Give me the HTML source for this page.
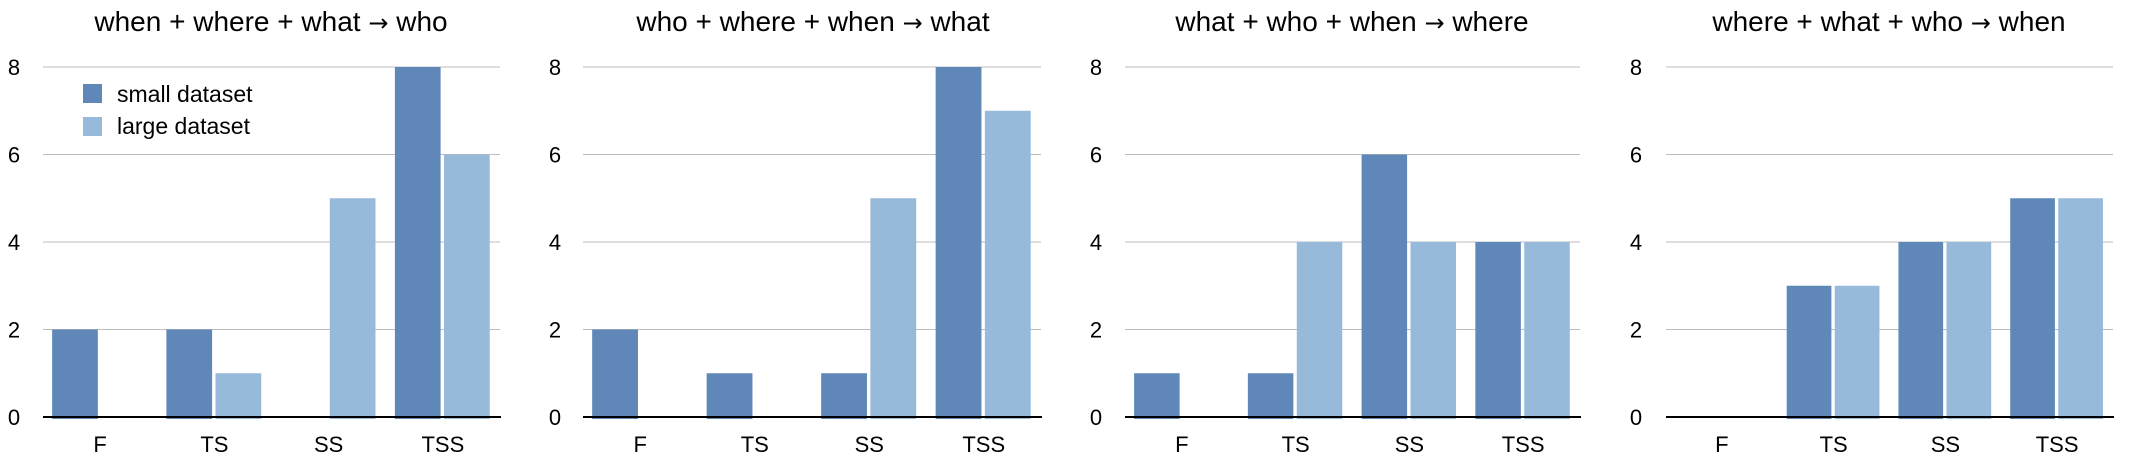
<!DOCTYPE html>
<html><head><meta charset="utf-8"><style>
html,body{margin:0;padding:0;background:#fff;}
svg{display:block;font-family:"Liberation Sans",Arial,sans-serif;}
</style></head><body>
<svg id="chart" width="2146" height="462" xmlns="http://www.w3.org/2000/svg"></svg>
<script>
const categories = ["F","TS","SS","TSS"];
const titlesLeft = ["when + where + what","who + where + when","what + who + when","where + what + who"];
const titlesRight = ["who","what","where","when"];
const smallValues = [[2,2,0,8],[2,1,1,8],[1,1,6,4],[0,3,4,5]];
const largeValues = [[0,1,5,6],[0,0,5,7],[0,4,4,4],[0,3,4,5]];
const yTicks = [0,2,4,6,8];

const NS = "http://www.w3.org/2000/svg";
const svg = document.getElementById('chart');
const panels = [
  {L:43,R:500,yl:14,tc:271},
  {L:583,R:1041,yl:555,tc:813},
  {L:1125,R:1580,yl:1096,tc:1352},
  {L:1666,R:2113,yl:1636,tc:1889}
];
const Y0 = 417, Y8 = 67, YMAX = 8;
function yScale(v){ return Y0 - (Y0 - Y8) * v / YMAX; }
function mk(tag, attrs, parent){
  const e = document.createElementNS(NS, tag);
  for (const k in attrs) e.setAttribute(k, attrs[k]);
  (parent||svg).appendChild(e);
  return e;
}
panels.forEach((p, pi) => {
  const g = mk('g', {});
  
  
  const t = mk('text', {x:p.tc, y:31, 'text-anchor':'middle', 'font-size':28, fill:'#000'}, g);
  
  
  const a = mk('tspan', {}, t); a.textContent = titlesLeft[pi] + ' ';
  const b = mk('tspan', {'font-family':'"DejaVu Sans", sans-serif', 'font-size':24}, t); b.textContent = '\u2192';
  const c = mk('tspan', {}, t); c.textContent = ' ' + titlesRight[pi];
  yTicks.forEach(v => {
    const y = yScale(v);
    if (v > 0) {
      const gl = mk('line', {x1:p.L, x2:p.R, y1:y, y2:y, stroke:'#bdbdbd', 'stroke-width':1}, g);
      
      
    }
    const tl = mk('text', {x:p.yl, y:y+8, 'text-anchor':'middle', 'font-size':22, fill:'#000'}, g);
    tl.textContent = v;
    
    
  });
  const cw = (p.R - p.L) / categories.length;
  const bw = cw * 0.40;
  categories.forEach((c, ci) => {
    const cx = p.L + (ci + 0.5) * cw;
    const sv = smallValues[pi][ci], lv = largeValues[pi][ci];
    if (sv > 0) {
      const b = mk('rect', {x:cx - cw*0.42, y:yScale(sv), width:bw, height:Y0 - yScale(sv) + 2, fill:'#5f87b8'}, g);
      
      
    }
    if (lv > 0) {
      const b = mk('rect', {x:cx + cw*0.01, y:yScale(lv), width:bw, height:Y0 - yScale(lv) + 2, fill:'#97b9da'}, g);
      
      
    }
    const xl = mk('text', {x:cx, y:452, 'text-anchor':'middle', 'font-size':22, fill:'#000'}, g);
    xl.textContent = c;
    
    
  });
  const ax = mk('line', {x1:p.L, x2:p.R + 1, y1:Y0, y2:Y0, stroke:'#000', 'stroke-width':2}, g);
  
  
});
// legend
const lg = mk('g', {});


const s1 = mk('rect', {x:83, y:84, width:19, height:19, fill:'#5f87b8'}, lg);


const t1 = mk('text', {x:117, y:102, 'font-size':23, fill:'#000'}, lg);
t1.textContent = 'small dataset';


const s2 = mk('rect', {x:83, y:117, width:19, height:19, fill:'#97b9da'}, lg);


const t2 = mk('text', {x:117, y:134, 'font-size':23, fill:'#000'}, lg);
t2.textContent = 'large dataset';


</script>
</body></html>
